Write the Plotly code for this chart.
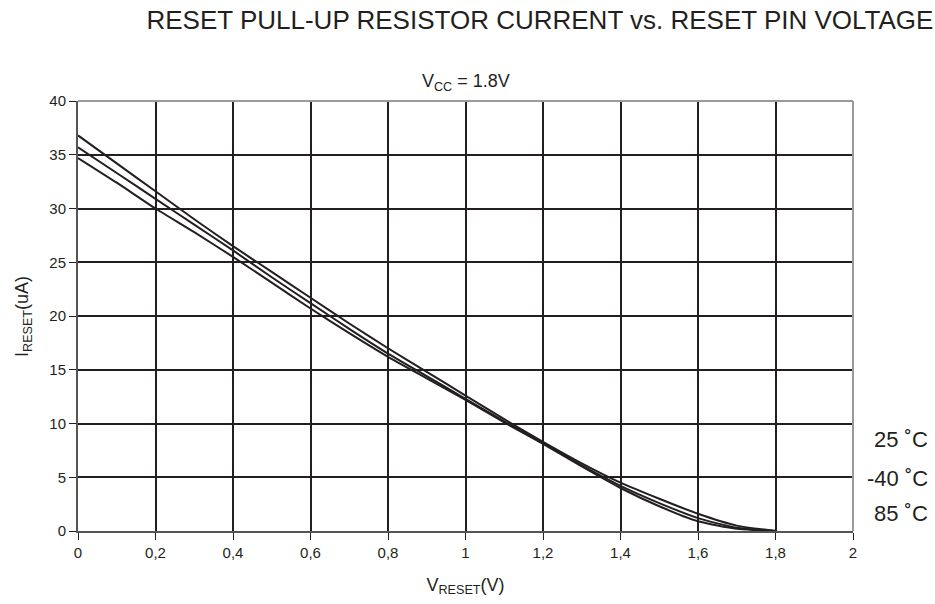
import plotly.graph_objects as go

v_reset = [0, 0.1, 0.2, 0.3, 0.4, 0.5, 0.6, 0.7, 0.8, 0.9, 1.0, 1.1, 1.2, 1.3, 1.4, 1.5, 1.6, 1.7, 1.8]
i_25 = [36.8, 34.2, 31.6, 29.0, 26.5, 24.1, 21.7, 19.3, 17.0, 14.8, 12.6, 10.4, 8.3, 6.3, 4.5, 3.0, 1.6, 0.5, 0.0]
i_m40 = [35.7, 33.3, 30.9, 28.5, 26.1, 23.6, 21.2, 18.8, 16.5, 14.4, 12.3, 10.2, 8.2, 6.1, 4.2, 2.6, 1.2, 0.3, 0.0]
i_85 = [34.7, 32.4, 30.0, 27.8, 25.5, 23.1, 20.7, 18.4, 16.2, 14.2, 12.2, 10.1, 8.1, 6.0, 4.0, 2.3, 0.9, 0.2, 0.0]

series = [("25 ˚C", i_25, 8.5), ("-40 ˚C", i_m40, 4.9), ("85 ˚C", i_85, 1.65)]

x_ticks = [0, 0.2, 0.4, 0.6, 0.8, 1.0, 1.2, 1.4, 1.6, 1.8, 2.0]
x_tick_labels = ["0", "0,2", "0,4", "0,6", "0,8", "1", "1,2", "1,4", "1,6", "1,8", "2"]
y_ticks = [0, 5, 10, 15, 20, 25, 30, 35, 40]

ink = "#231f20"
fig = go.Figure()
for name, vals, _ in series:
    fig.add_trace(go.Scatter(x=v_reset, y=vals, mode="lines", name=name,
                             line=dict(color=ink, width=2, shape="spline", smoothing=0.6),
                             showlegend=False))

for name, _, ypos in series:
    fig.add_annotation(text=name, x=1.099, xref="paper", y=ypos, yref="y",
                       xanchor="right", yanchor="middle", showarrow=False,
                       font=dict(size=22, color=ink))

fig.add_annotation(text="V<sub>CC</sub> = 1.8V", x=0.5, xref="paper", y=1.0, yref="paper",
                   yanchor="bottom", yshift=5, showarrow=False, font=dict(size=18, color=ink))

# y-axis title placed as rotated annotation
fig.add_annotation(text="I<sub>RESET</sub>(uA)", x=-0.071, xref="paper", y=0.5, yref="paper",
                   xanchor="center", yanchor="middle", textangle=-90, showarrow=False,
                   font=dict(size=18, color=ink))

# top/right frame in gray
fig.add_shape(type="line", xref="paper", yref="paper", x0=0, x1=1, y0=1, y1=1,
              line=dict(color="#9a9a9a", width=2))
fig.add_shape(type="line", xref="paper", yref="paper", x0=1, x1=1, y0=0, y1=1,
              line=dict(color="#9a9a9a", width=2))

fig.update_layout(
    width=935, height=604,
    margin=dict(l=78, r=82, t=101, b=73),
    paper_bgcolor="white", plot_bgcolor="white",
    font=dict(family="Liberation Sans, Arial, sans-serif", color=ink, size=15),
    title=dict(text="RESET PULL-UP RESISTOR CURRENT vs. RESET PIN VOLTAGE",
               x=0.5775, xanchor="center", y=0.967, yanchor="middle",
               font=dict(size=26, color=ink)),
    xaxis=dict(range=[0, 2], tickvals=x_ticks, ticktext=x_tick_labels,
               showgrid=True, gridcolor=ink, gridwidth=2, zeroline=False,
               showline=True, linecolor="#555555", linewidth=2,
               ticks="outside", ticklen=7, tickcolor=ink, tickwidth=1,
               title=dict(text="V<sub>RESET</sub>(V)", font=dict(size=18), standoff=18)),
    yaxis=dict(range=[0, 40], tickvals=y_ticks,
               showgrid=True, gridcolor=ink, gridwidth=2, zeroline=False,
               showline=True, linecolor="#555555", linewidth=2,
               ticks="outside", ticklen=7, tickcolor=ink, tickwidth=1),
)

fig.write_html("out.html", config={"displayModeBar": False},
               post_script="document.body.style.margin='0';document.body.style.overflow='hidden';")
